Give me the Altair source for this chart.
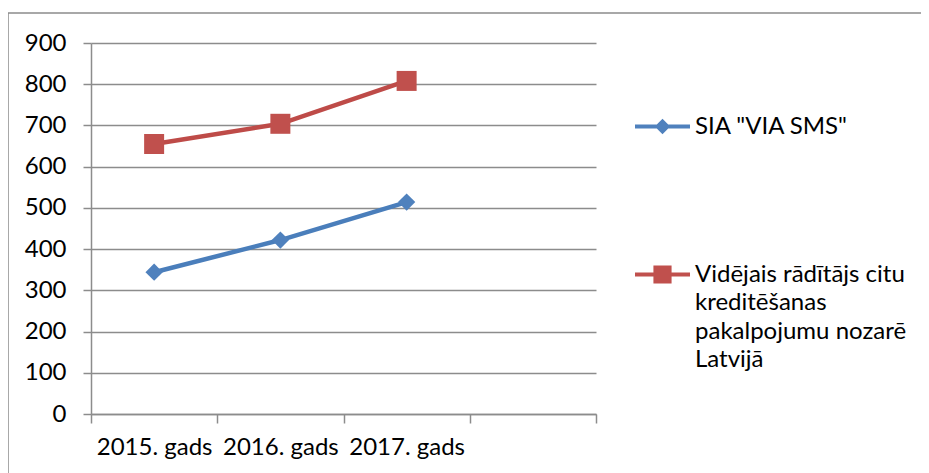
import altair as alt
import pandas as pd

# ---- data ----
years = ["2015. gads", "2016. gads", "2017. gads"]
x_domain = years + [""]
via_sms = [344, 422, 514]
avg_other = [655, 704, 808]
series_blue = 'SIA "VIA SMS"'
series_red_lines = ["Vidējais rādītājs citu", "kreditēšanas", "pakalpojumu nozarē", "Latvijā"]
series_red = "\n".join(series_red_lines)
y_ticks = list(range(0, 901, 100))

blue_df = pd.DataFrame({"year": years, "value": via_sms, "series": series_blue})
red_df = pd.DataFrame({"year": years, "value": avg_other, "series": series_red})

FONT = "Lato"
FS = 24
GRID = "#8c8c8c"
BLUE_LINE, BLUE_MARK = "#4A7EBB", "#4F81BD"
RED_LINE, RED_MARK = "#BE4B48", "#C0504D"

x_enc = alt.X(
    "year:N",
    scale=alt.Scale(type="band", domain=x_domain, paddingInner=0, paddingOuter=0),
    axis=alt.Axis(title=None, labelAngle=0, labelFont=FONT, labelFontSize=FS,
                  labelColor="black", tickBand="extent", tickSize=9, tickColor=GRID,
                  tickWidth=1.5, domainColor=GRID, domainWidth=1.5, labelPadding=12,
                  grid=False),
)
y_enc = alt.Y(
    "value:Q",
    scale=alt.Scale(domain=[0, 900], nice=False),
    axis=alt.Axis(title=None, values=y_ticks, grid=True, gridColor=GRID, gridWidth=1.5,
                  tickSize=8, tickColor=GRID, tickWidth=1.5, domainColor=GRID,
                  domainWidth=1.5, labelFont=FONT, labelFontSize=FS, labelColor="black",
                  labelPadding=17),
)

diamond_path = "M-1,-0.075H1V0.075H-1Z M0,-0.28L0.28,0L0,0.28L-0.28,0Z"
square_path = "M-1,-0.075H1V0.075H-1Z M-0.33,-0.33H0.33V0.33H-0.33Z"

def legend(path, ly, multiline=False):
    kw = dict(title=None, orient="none", legendX=544, legendY=ly, symbolType=path,
              symbolSize=3025, symbolStrokeWidth=0, labelFont=FONT, labelFontSize=FS,
              labelColor="black", labelOffset=5, labelLimit=400, padding=0)
    if multiline:
        kw["labelExpr"] = "split(datum.label, '\\n')"
    return alt.Legend(**kw)

border = alt.Chart(pd.DataFrame({"a": [0]})).mark_rect(
    fillOpacity=0, stroke=GRID, strokeWidth=1.5
).encode(x=alt.value(-83), x2=alt.value(860), y=alt.value(-30), y2=alt.value(450))

blue_line = alt.Chart(blue_df).mark_line(color=BLUE_LINE, strokeWidth=4.5).encode(x=x_enc, y=y_enc)
blue_pts = alt.Chart(blue_df).mark_point(shape="diamond", filled=True, size=300, opacity=1).encode(
    x=x_enc, y=y_enc,
    color=alt.Color("series:N", scale=alt.Scale(domain=[series_blue], range=[BLUE_MARK]),
                    legend=legend(diamond_path, 56)),
)
red_line = alt.Chart(red_df).mark_line(color=RED_LINE, strokeWidth=4.5).encode(x=x_enc, y=y_enc)
red_pts = alt.Chart(red_df).mark_point(shape="square", filled=True, size=400, opacity=1).encode(
    x=x_enc, y=y_enc,
    color=alt.Color("series:N", scale=alt.Scale(domain=[series_red], range=[RED_MARK]),
                    legend=legend(square_path, 204, multiline=True)),
)

chart = alt.layer(border, blue_line, red_line, blue_pts, red_pts).resolve_scale(
    color="independent"
).properties(
    width=505, height=371,
    autosize=alt.AutoSizeParams(type="none"),
    padding={"left": 83, "top": 35, "right": 325, "bottom": 59},
).configure(style={"guide-label": {"lineHeight": 28.5}}).configure_view(strokeWidth=0)

chart.save("out.html", embed_options={"renderer": "svg", "actions": False})
